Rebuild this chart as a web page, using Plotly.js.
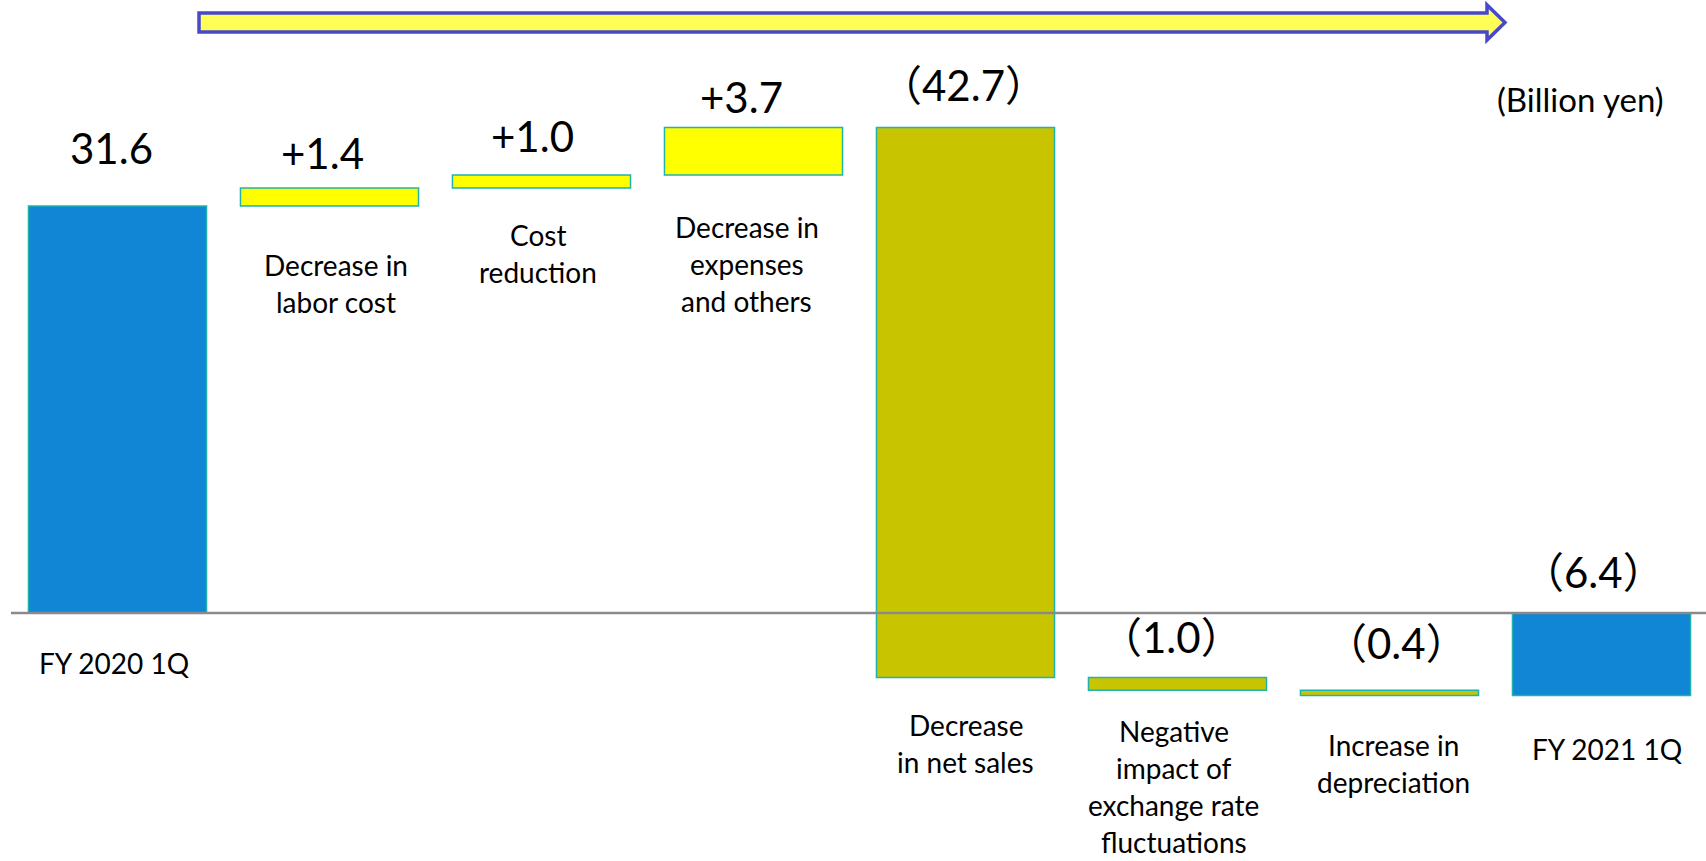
<!DOCTYPE html>
<html>
<head>
<meta charset="utf-8">
<script src="https://cdn.plot.ly/plotly-3.0.1.min.js"></script>
<style>
  html, body { margin: 0; padding: 0; background: #ffffff; }
  #chart { width: 1706px; height: 861px; }
</style>
</head>
<body>
<div id="chart"></div>
<script>
// Operating income bridge, FY2020 1Q -> FY2021 1Q (billion yen)
const categories = [
  'FY 2020 1Q',
  'Decrease in<br>labor cost',
  'Cost<br>reduction',
  'Decrease in<br>expenses<br>and others',
  'Decrease<br>in net sales',
  'Negative<br>impact of<br>exchange rate<br>fluctuations',
  'Increase in<br>depreciation',
  'FY 2021 1Q'
];
const measures = ['absolute', 'relative', 'relative', 'relative', 'relative', 'relative', 'relative', 'total'];
const values = [31.6, 1.4, 1.0, 3.7, -42.7, -1.0, -0.4, 0];
const unitLabel = '(Billion yen)';

// Text box nudges (pixels): [dx, gap above bar top] for value labels,
// [dx, gap below bar bottom] for the category captions.
const valueNudge = [[-6, 41], [-7, 18], [-9, 22], [-12, 13], [-2, 25], [-6, 23], [7, 30], [-8, 24]];
const nameNudge = [[-3, 39], [6, 48], [-4, 37], [-7, 41], [0, 37], [-4, 30], [4, 39], [6, 43]];

const W = 1706, H = 861;
const FONT = 'Lato, "Noto Sans CJK JP", sans-serif';
const BLUE = '#1086D4', YELLOW = '#FFFF00', OLIVE = '#C8C400', EDGE = '#1FB3B0';

// Running totals give each bar's extent.
const tops = [], bottoms = [], shown = [];
let run = 0;
values.forEach((v, i) => {
  let lo, hi, val;
  if (measures[i] === 'absolute') { lo = 0; hi = v; run = v; val = v; }
  else if (measures[i] === 'relative') { lo = run; hi = run + v; run += v; val = v; }
  else { lo = 0; hi = run; val = run; }
  tops.push(Math.max(lo, hi));
  bottoms.push(Math.min(lo, hi));
  shown.push(Math.round(val * 10) / 10);
});

function fmt(v, m) {
  const s = Math.abs(v).toFixed(1);
  if (v < 0) return '（' + s + '）';
  return m === 'relative' ? '+' + s : s;
}

const trace = {
  type: 'waterfall',
  x: categories,
  y: values,
  measure: measures,
  textinfo: 'none',
  hoverinfo: 'skip',
  connector: { visible: false },
  increasing: { marker: { color: YELLOW, line: { color: EDGE, width: 1.5 } } },
  decreasing: { marker: { color: OLIVE, line: { color: EDGE, width: 1.5 } } },
  totals: { marker: { color: BLUE, line: { color: EDGE, width: 1.5 } } }
};

const annotations = [];
const LATO_DESC = 0.213, LATO_ASC = 0.987, LATO_CAP = 0.72;
const VAL_SIZE = 42, NAME_SIZE = 28, LINE_STEP = 37;

categories.forEach((c, i) => {
  // value label, baseline `gap` px above bar top
  const vn = valueNudge[i];
  annotations.push({
    x: c, y: tops[i], xref: 'x', yref: 'y',
    text: fmt(shown[i], measures[i]),
    showarrow: false, xanchor: 'center', yanchor: 'bottom',
    xshift: vn[0], yshift: vn[1] - (1 + LATO_DESC * VAL_SIZE),
    font: { family: FONT, size: VAL_SIZE, color: '#000000' }
  });
  // category caption, one annotation per line for a wider line pitch
  const nn = nameNudge[i];
  c.split('<br>').forEach((line, k) => {
    annotations.push({
      x: c, y: bottoms[i], xref: 'x', yref: 'y',
      text: line,
      showarrow: false, xanchor: 'center', yanchor: 'top',
      xshift: nn[0],
      yshift: -(nn[1] - 1 - (LATO_ASC - LATO_CAP) * NAME_SIZE) - k * LINE_STEP,
      font: { family: FONT, size: NAME_SIZE, color: '#000000' }
    });
  });
});

annotations.push({
  x: 1580 / W, y: 1 - 113 / H, xref: 'paper', yref: 'paper',
  text: unitLabel, showarrow: false, xanchor: 'center', yanchor: 'bottom',
  yshift: -(1 + LATO_DESC * 33),
  font: { family: FONT, size: 33, color: '#000000' }
});

// helpers for pixel-placed decorations
const px = x => x / W;
const py = y => 1 - y / H;
const arrowPts = [[199, 13], [1487, 13], [1487, 5], [1505, 22.5], [1487, 40], [1487, 32], [199, 32]];
const arrowPath = 'M' + arrowPts.map(p => px(p[0]).toFixed(5) + ',' + py(p[1]).toFixed(5)).join(' L') + ' Z';

const shapes = [
  { type: 'path', xref: 'paper', yref: 'paper', path: arrowPath,
    fillcolor: '#FFFF55', line: { color: '#4848CC', width: 3.5 }, layer: 'above' },
  { type: 'line', xref: 'paper', yref: 'y', x0: px(11), x1: 1, y0: 0, y1: 0,
    line: { color: '#8A8A8A', width: 2.5 }, layer: 'above' }
];

// scale: 12.88 px per billion yen, zero at y = 613 px; 212 px per category
const PXU = 12.88, ZERO = 613, STEP = 212, FIRST = 117.5;

const layout = {
  width: W, height: H,
  margin: { l: 0, r: 0, t: 0, b: 0, pad: 0 },
  paper_bgcolor: '#ffffff', plot_bgcolor: '#ffffff',
  showlegend: false,
  waterfallgap: 0.16,
  xaxis: { type: 'category', visible: false, range: [-FIRST / STEP, (W - FIRST) / STEP], fixedrange: true },
  yaxis: { visible: false, zeroline: false, showgrid: false, range: [-(H - ZERO) / PXU, ZERO / PXU], fixedrange: true },
  annotations: annotations,
  shapes: shapes
};

Plotly.newPlot('chart', [trace], layout, { staticPlot: true, displayModeBar: false });
</script>
</body>
</html>
